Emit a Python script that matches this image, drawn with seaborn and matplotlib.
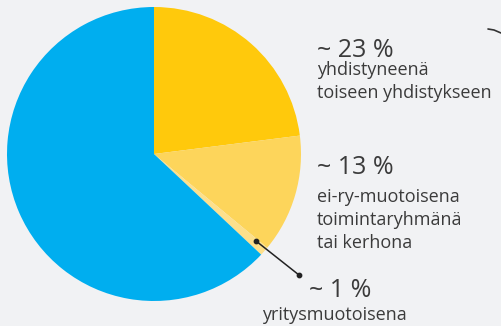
import matplotlib
matplotlib.use("Agg")
import matplotlib.pyplot as plt
import seaborn as sns

# Shares of associations by form of continuation (%)
categories = ["yhdistyneenä toiseen yhdistykseen", "ei-ry-muotoisena toimintaryhmänä tai kerhona",
              "yritysmuotoisena", "muu"]
shares = [23, 13, 1, 63]
share_labels = ["~ 23 %", "~ 13 %", "~ 1 %"]
label_texts = ["yhdistyneenä\ntoiseen yhdistykseen",
               "ei-ry-muotoisena\ntoimintaryhmänä\ntai kerhona",
               "yritysmuotoisena"]

sns.set_theme(style="white")
plt.rcParams["font.family"] = ["Open Sans", "DejaVu Sans"]

bg = "#F1F2F4"
text_color = "#3b3b3b"
colors = sns.color_palette(["#FFC90C", "#FDD55B", "#FDE08C", "#00AEEF"])

W, H = 501, 326
fig = plt.figure(figsize=(W / 100, H / 100), dpi=100, facecolor=bg)
ax = fig.add_axes([0, 0, 1, 1])
ax.set_facecolor(bg)

ax.pie(shares, colors=colors, startangle=90, counterclock=False,
       center=(154, H - 154), radius=147, frame=True,
       wedgeprops=dict(linewidth=0))
ax.set_xlim(0, W)
ax.set_ylim(0, H)
ax.set_axis_off()

# value labels and descriptions, one baseline per text line
pct_kw = dict(fontsize=18, color=text_color, va="baseline", ha="left")
txt_kw = dict(fontsize=13, color=text_color, va="baseline", ha="left")
line_gap = 23

label_layout = [
    # (pct x, pct baseline, text x, first text baseline)
    (317, 57, 317, 75),
    (317, 174, 317, 202),
    (309, 297, 262, 320),
]

for pct, text, (px, py, tx, ty) in zip(share_labels, label_texts, label_layout):
    ax.text(px, H - py, pct, **pct_kw)
    for i, line in enumerate(text.split("\n")):
        ax.text(tx, H - (ty + i * line_gap), line, **txt_kw)

# leader line to the smallest slice
ax.plot([256, 299], [H - 241, H - 275], color="#222222", lw=1.1)
ax.scatter([256, 299], [H - 241, H - 275], s=10, color="#222222", zorder=5)

# decorative stroke at the top right edge
ax.plot([488, 494, 501], [H - 29, H - 30, H - 33], color="#333333", lw=1.2)

fig.savefig("out.png", dpi=100, facecolor=bg)
